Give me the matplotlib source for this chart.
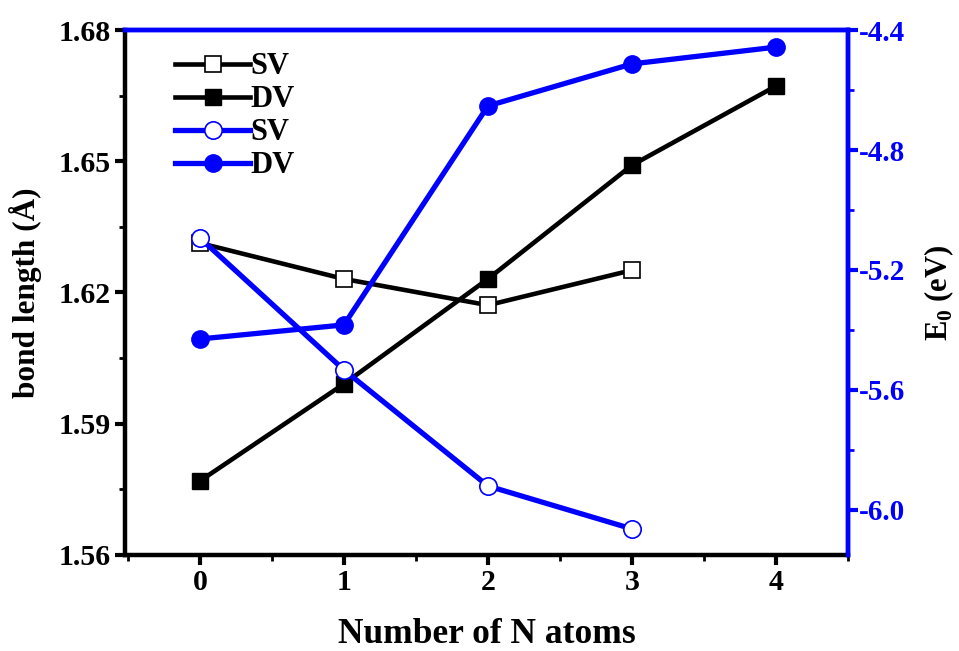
import matplotlib
matplotlib.use("Agg")
import matplotlib.pyplot as plt
from matplotlib.ticker import MultipleLocator

plt.rcParams['font.family'] = ['Liberation Serif', 'DejaVu Serif']
plt.rcParams['font.weight'] = 'bold'
plt.rcParams['mathtext.fontset'] = 'custom'
plt.rcParams['mathtext.rm'] = 'Liberation Serif'
plt.rcParams['mathtext.bf'] = 'Liberation Serif:bold'

n_atoms_sv = [0, 1, 2, 3]
n_atoms_dv = [0, 1, 2, 3, 4]
bond_sv = [1.6313, 1.6231, 1.6171, 1.6251]
bond_dv = [1.5769, 1.5991, 1.6231, 1.6491, 1.6672]
e0_sv = [-5.093, -5.533, -5.920, -6.063]
e0_dv = [-5.430, -5.383, -4.653, -4.513, -4.457]

fig = plt.figure(figsize=(9.59, 6.51), dpi=100)
ax = fig.add_axes([0.1303, 0.1475, 0.7540, 0.8064])
ax2 = ax.twinx()

blue = '#0000FF'
l1, = ax.plot(n_atoms_sv, bond_sv, color='black', lw=3.3, marker='s', ms=12,
              mfc='white', mec='black', mew=1.2, label='SV', zorder=3)
l2, = ax.plot(n_atoms_dv, bond_dv, color='black', lw=3.3, marker='s', ms=12,
              mfc='black', mec='black', label='DV', zorder=3)
l3, = ax2.plot(n_atoms_sv, e0_sv, color=blue, lw=3.8, marker='o', ms=12.5,
               mfc='white', mec=blue, mew=1.2, label='SV', zorder=3)
l4, = ax2.plot(n_atoms_dv, e0_dv, color=blue, lw=3.8, marker='o', ms=12.5,
               mfc=blue, mec=blue, label='DV', zorder=3)

ax.set_xlim(-0.52, 4.5)
ax.set_ylim(1.56, 1.68)
ax2.set_ylim(-6.15, -4.4)

ax.set_xticks([0, 1, 2, 3, 4])
ax.xaxis.set_minor_locator(MultipleLocator(0.5))
ax.set_yticks([1.56, 1.59, 1.62, 1.65, 1.68])
ax.yaxis.set_minor_locator(MultipleLocator(0.015))
ax2.set_yticks([-6.0, -5.6, -5.2, -4.8, -4.4])
ax2.set_yticklabels(['-6.0', '-5.6', '-5.2', '-4.8', '-4.4'])
ax2.yaxis.set_minor_locator(MultipleLocator(0.2))

for a in (ax, ax2):
    for s in a.spines.values():
        s.set_linewidth(3.2)
ax.spines['left'].set_color('black')
ax.spines['bottom'].set_color('black')
ax2.spines['top'].set_color(blue)
ax2.spines['right'].set_color(blue)
ax.spines['top'].set_color(blue)
ax.spines['right'].set_color(blue)
ax2.spines['left'].set_visible(False)
ax2.spines['bottom'].set_visible(False)

ax.tick_params(axis='both', which='major', direction='out', length=7, width=3,
               labelsize=21.5, colors='black', pad=3)
ax.tick_params(axis='both', which='minor', direction='out', length=4, width=2)
ax.tick_params(axis='y', right=False)
ax2.tick_params(axis='y', which='major', direction='out', length=7, width=3,
                labelsize=21, colors=blue, pad=1)
ax2.tick_params(axis='y', which='minor', direction='out', length=4, width=2, colors=blue)
for lab in ax.get_xticklabels() + ax.get_yticklabels() + ax2.get_yticklabels():
    lab.set_fontweight('bold')

ax.set_xlabel('Number of N atoms', fontsize=25.5, fontweight='bold', labelpad=16)
ax.set_ylabel('bond length (Å)', fontsize=22.5, fontweight='bold', labelpad=12)
ax2.set_ylabel(r'E$_\mathbf{0}$ (eV)', fontsize=22, fontweight='bold', labelpad=12)

leg = ax.legend(handles=[l1, l2, l3, l4], loc='upper left',
                bbox_to_anchor=(0.04, 0.998), frameon=False,
                handlelength=2.45, handletextpad=0.0, labelspacing=0.13,
                borderaxespad=0.3,
                prop={'weight': 'bold', 'size': 22})

fig.savefig('out.png', dpi=100)
